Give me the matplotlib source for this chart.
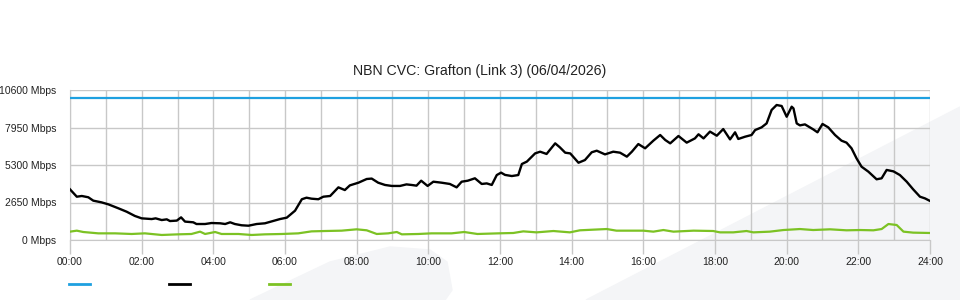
import matplotlib
matplotlib.use("Agg")
import matplotlib.pyplot as plt
from matplotlib.patches import Polygon
from matplotlib.lines import Line2D

plt.rcParams['font.family'] = ['Liberation Sans', 'DejaVu Sans']

title = "NBN CVC: Grafton (Link 3) (06/04/2026)"

# capacity (blue), total traffic (black), other traffic (green)
cap_hours = [0, 24]
cap_mbps = [10000, 10000]

traffic_hours = [0.0, 0.19, 0.33, 0.51, 0.65, 0.88, 1.07, 1.35, 1.58, 1.81, 2.0, 2.28, 2.39, 2.56,
                 2.70, 2.79, 2.98, 3.10, 3.21, 3.44, 3.53, 3.77, 3.95, 4.19, 4.33, 4.47, 4.60, 4.79,
                 4.98, 5.21, 5.44, 5.67, 5.86, 6.05, 6.28, 6.47, 6.60, 6.74, 6.93, 7.07, 7.26, 7.49,
                 7.67, 7.81, 8.05, 8.28, 8.42, 8.60, 8.79, 8.98, 9.21, 9.39, 9.53, 9.67, 9.80, 9.98,
                 10.14, 10.37, 10.60, 10.79, 10.93, 11.10, 11.30, 11.49, 11.63, 11.77, 11.91, 12.03,
                 12.14, 12.33, 12.51, 12.61, 12.75, 12.98, 13.12, 13.30, 13.54, 13.67, 13.82, 13.96,
                 14.19, 14.37, 14.56, 14.70, 14.93, 15.16, 15.35, 15.54, 15.68, 15.86, 16.05, 16.28,
                 16.47, 16.61, 16.75, 16.98, 17.21, 17.44, 17.54, 17.68, 17.86, 18.05, 18.23, 18.42,
                 18.56, 18.65, 18.84, 19.02, 19.12, 19.30, 19.44, 19.58, 19.72, 19.86, 20.0, 20.14,
                 20.19, 20.28, 20.37, 20.51, 20.65, 20.74, 20.86, 21.0, 21.16, 21.35, 21.53, 21.67,
                 21.81, 21.95, 22.09, 22.28, 22.51, 22.65, 22.79, 22.98, 23.16, 23.35, 23.53, 23.72,
                 23.86, 24.0]
traffic_mbps = [3580, 3060, 3110, 3020, 2780, 2660, 2520, 2240, 2000, 1700, 1530, 1480, 1530, 1410,
                1460, 1340, 1370, 1600, 1300, 1250, 1130, 1130, 1200, 1180, 1130, 1250, 1130, 1040,
                1010, 1130, 1180, 1340, 1480, 1580, 2070, 2880, 2990, 2920, 2880, 3060, 3110, 3720,
                3530, 3860, 4050, 4310, 4340, 4050, 3890, 3820, 3820, 3930, 3890, 3840, 4190, 3820,
                4120, 4050, 3960, 3720, 4120, 4190, 4360, 3960, 4000, 3890, 4590, 4760,
                4600, 4520, 4590, 5370, 5540, 6120, 6240, 6080, 6830, 6550, 6170, 6120,
                5460, 5650, 6200, 6310, 6050, 6240, 6170, 5890, 6240, 6780, 6480, 7020,
                7420, 7070, 6830, 7350, 6880, 7180, 7470, 7180, 7660, 7370, 7840, 7110,
                7610, 7140, 7300, 7420, 7770, 7960, 8240, 9190, 9540, 9470, 8710, 9420,
                9300, 8240, 8100, 8170, 7960, 7820, 7610, 8200, 7960, 7420, 7020, 6880,
                6480, 5770, 5180, 4830, 4290, 4360, 4950, 4850, 4590, 4120, 3580, 3060,
                2940, 2760]

other_hours = [0.0, 0.19, 0.37, 0.79, 1.26, 1.72, 2.09, 2.56, 3.02, 3.39, 3.63, 3.77, 4.05, 4.23,
               4.70, 5.07, 5.44, 5.91, 6.37, 6.74, 7.12, 7.58, 8.0, 8.28, 8.56, 8.88, 9.12, 9.26,
               9.72, 10.09, 10.65, 11.0, 11.37, 11.95, 12.37, 12.65, 13.02, 13.49, 13.95, 14.23,
               14.60, 14.98, 15.25, 16.0, 16.28, 16.56, 16.84, 17.4, 17.95, 18.14, 18.51, 18.88,
               19.07, 19.53, 19.91, 20.37, 20.74, 21.21, 21.67, 22.05, 22.42, 22.65, 22.84, 23.07,
               23.26, 23.53, 24.0]
other_mbps = [590, 660, 565, 470, 470, 425, 470, 355, 400, 425, 590, 425, 565, 425,
              425, 355, 400, 425, 470, 610, 635, 660, 755, 685, 425, 470, 565, 400,
              425, 470, 470, 565, 425, 470, 495, 610, 540, 635, 540, 685,
              730, 775, 660, 660, 590, 705, 590, 660, 635, 540, 540, 635,
              540, 590, 705, 775, 705, 755, 685, 705, 685, 775, 1130, 1060,
              590, 520, 495]

y_ticks = [0, 2650, 5300, 7950, 10600]
x_ticks = list(range(0, 25, 2))

blue = '#1ea0e0'
green = '#7cc224'
grid_c = '#c8c8c8'

fig = plt.figure(figsize=(9.6, 3.0), dpi=100)

# faint background watermark, kept behind the axes
wm = '#f4f5f7'
fig.patches.append(Polygon([(250/960, 0), (330/960, 38/300), (390/960, 53/300), (430/960, 50/300),
                            (447/960, 38/300), (452/960, 10/300), (445/960, 0)],
                           closed=True, transform=fig.transFigure, color=wm, zorder=-5))
fig.patches.append(Polygon([(586/960, 0), (960/960, 193/300), (960/960, 0)],
                           closed=True, transform=fig.transFigure, color=wm, zorder=-5))

ax = fig.add_axes([70/960, 60/300, 860/960, 150/300])
ax.set_facecolor('none')

ax.plot(cap_hours, cap_mbps, color=blue, lw=1.6, zorder=3)
ax.plot(traffic_hours, traffic_mbps, color='black', lw=1.7, zorder=3)
ax.plot(other_hours, other_mbps, color=green, lw=1.6, zorder=3)

ax.set_xlim(0, 24)
ax.set_ylim(0, 10600)
ax.set_xticks(x_ticks)
ax.set_xticklabels(['%02d:00' % h for h in x_ticks])
ax.set_xticks(range(25), minor=True)
ax.set_yticks(y_ticks)
ax.set_yticklabels(['%d Mbps' % v for v in y_ticks])
ax.grid(True, which='both', color=grid_c, lw=1)
ax.set_axisbelow(True)

for s in ['top', 'right']:
    ax.spines[s].set_visible(False)
ax.spines['left'].set_color(grid_c)
ax.spines['bottom'].set_color(grid_c)
ax.tick_params(axis='x', which='major', length=10, width=1, color=grid_c,
               labelsize=7.5, labelcolor='#222222', pad=2)
ax.tick_params(axis='x', which='minor', length=0)
ax.tick_params(axis='y', length=0, labelsize=7.5, labelcolor='#222222', pad=10)

fig.text(0.5, 1 - 71/300, title, ha='center', va='center', fontsize=10.2, color='#222222')

handles = [Line2D([], [], color=c, lw=2) for c in [blue, 'black', green]]
fig.legend(handles, ['', '', ''], loc='center left', bbox_to_anchor=(69/960, 15/300),
           ncol=3, frameon=False, handlelength=1.9, handletextpad=0, columnspacing=7.1,
           borderpad=0, borderaxespad=0, fontsize=8)

fig.savefig('out.png', dpi=100)
